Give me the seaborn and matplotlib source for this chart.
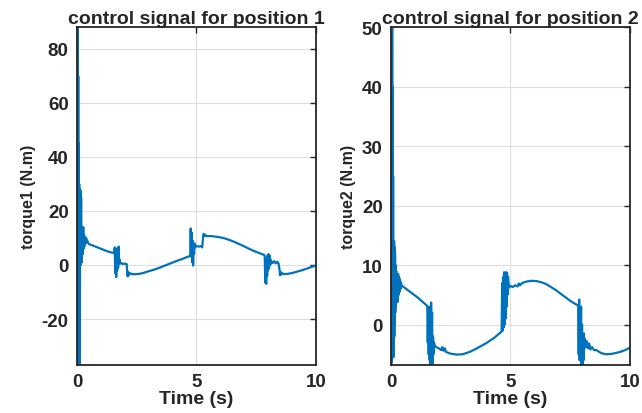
import numpy as np
import pandas as pd
import seaborn as sns
import matplotlib.pyplot as plt

# torque 1 signal (time in s, torque in N.m)
time1 = [0.00, 0.01, 0.02, 0.03, 0.04, 0.05, 0.06, 0.07, 0.08, 0.09, 0.10, 0.11, 0.12, 0.13,
         0.14, 0.15, 0.16, 0.17, 0.18, 0.19, 0.20, 0.22, 0.24, 0.26, 0.28, 0.30, 0.32, 0.34,
         0.36, 0.38, 0.40, 0.43, 0.46, 0.50, 0.60, 0.80, 1.00, 1.20, 1.40, 1.56,
         1.58, 1.60, 1.62, 1.64, 1.66, 1.68, 1.70, 1.72, 1.74, 1.76, 1.78, 1.80, 1.84, 1.90,
         2.00, 2.08, 2.10, 2.12, 2.14, 2.16, 2.20, 2.30, 2.45, 2.60, 2.80, 3.00, 3.20, 3.40,
         3.60, 3.80, 4.00, 4.20, 4.40, 4.60, 4.74,
         4.76, 4.78, 4.80, 4.82, 4.84, 4.86, 4.88, 4.90, 4.92, 4.94, 5.00, 5.10, 5.20, 5.24,
         5.28, 5.30, 5.33, 5.36, 5.40, 5.60, 5.80, 6.00, 6.20, 6.40, 6.60, 6.80, 7.00, 7.20,
         7.40, 7.60, 7.84,
         7.86, 7.88, 7.90, 7.92, 7.94, 7.96, 7.98, 8.00, 8.02, 8.04, 8.06, 8.08, 8.10, 8.12,
         8.16, 8.20, 8.26, 8.32, 8.38, 8.44, 8.48, 8.50, 8.52, 8.54, 8.58, 8.66, 8.80, 9.00,
         9.20, 9.40, 9.60, 9.80, 10.00]
torque1 = [0, 120, -45, 90, -40, 70, -38, 45, -40, 30, -42, 20, -25, 28,
           0, 27, 2, 25, 3, 14, 1, 13, 4, 14, 6, 11, 7, 10,
           8, 10, 8.5, 9, 8.2, 7.7, 7.4, 6.7, 6.0, 5.3, 4.7, 4.4,
           6.5, -3, 5, -4.5, 6, -2, 4, -1, 6.8, 1, 2, 0.5, 0.8, 0.4,
           0.5, 0.3, -3.5, -4.2, -2.5, -3.8, -3.0, -3.4, -3.4, -3.3, -2.9, -2.3, -1.8, -1.2,
           -0.5, 0.2, 0.9, 1.6, 2.2, 2.9, 3.4,
           13.5, 3, 12, 1, 9, -0.2, 7, 4, 8, 6.5, 7, 6.8, 7.0, 6.5,
           10.5, 11.5, 10.8, 11.2, 10.7, 10.7, 10.5, 10.2, 9.8, 9.2, 8.5, 7.7, 6.9, 6.0,
           5.2, 4.5, 3.7,
           3.0, -6.5, 2, -7, 1, -4, 3.5, -2, 4, -1, 3.5, 0, 2, 0.5,
           1.2, 0.8, 1.4, 0.6, 1.2, 0.5, -2, -3.8, -2.5, -3.6, -3.0, -3.4, -3.3, -3.0,
           -2.5, -2.0, -1.4, -0.8, -0.2]

# torque 2 signal
time2 = [0.00, 0.01, 0.02, 0.03, 0.04, 0.05, 0.06, 0.07, 0.08, 0.09, 0.10, 0.11, 0.12, 0.13,
         0.14, 0.15, 0.16, 0.17, 0.18, 0.19, 0.20, 0.22, 0.24, 0.26, 0.28, 0.30, 0.32, 0.34,
         0.36, 0.38, 0.40, 0.42, 0.45, 0.50, 0.70, 0.90, 1.10, 1.30, 1.50,
         1.52, 1.54, 1.56, 1.58, 1.60, 1.62, 1.64, 1.66, 1.68, 1.70, 1.72, 1.74, 1.76, 1.78,
         1.80, 1.84, 1.90, 2.00, 2.10, 2.15, 2.20, 2.25, 2.30, 2.50, 2.75, 3.00, 3.30, 3.60,
         4.00, 4.30, 4.63,
         4.66, 4.68, 4.70, 4.72, 4.74, 4.76, 4.78, 4.80, 4.82, 4.84, 4.86, 4.88, 4.90, 4.94,
         5.00, 5.10, 5.20, 5.30, 5.35, 5.40, 5.50, 5.70, 5.90, 6.10, 6.30, 6.50, 6.70, 6.90,
         7.10, 7.30, 7.50, 7.70, 7.84,
         7.86, 7.88, 7.90, 7.92, 7.94, 7.96, 7.98, 8.00, 8.02, 8.04, 8.06, 8.08, 8.10, 8.12,
         8.16, 8.20, 8.25, 8.30, 8.35, 8.42, 8.50, 8.60, 8.80, 9.00, 9.20, 9.40, 9.60, 9.80,
         10.00]
torque2 = [0, 60, -6.5, 55, -6, 52, -5.5, 40, -5, 25, -5.5, 14, -4, 14,
           -2, 13, 0, 12, 2, 10, 3, 9, 4, 8.3, 3.8, 8.5, 5, 8,
           5.5, 7.5, 6, 7, 6.5, 6.4, 5.8, 5.2, 4.6, 3.9, 3.2,
           3.1, -3, 2, -5, 3, -6, 1, -8, 3.7, -9, 2, -8, -2, -5,
           -3, -3.6, -3.8, -4.0, -4.3, -3.8, -4.4, -4.0, -4.6, -4.9, -5.05, -5.0, -4.6, -4.0,
           -3.1, -2.3, -1.2,
           7, -1, 8, -0.5, 8.8, 0, 8.5, 1, 8.8, 3, 8.7, 5, 8, 6.2,
           6.5, 6.3, 6.6, 6.4, 6.9, 6.6, 7.0, 7.25, 7.35, 7.3, 7.1, 6.8, 6.3, 5.8,
           5.2, 4.6, 4.0, 3.5, 3.2,
           -5, 4.2, -6, 2, -4, 3, -8, 0, -9, -2, -6, -1.5, -4, -2.4,
           -3.8, -2.8, -4.0, -3.2, -4.2, -3.8, -4.3, -4.3, -4.8, -5.0, -4.95, -4.8, -4.6, -4.3,
           -3.9]

panels = [
    (time1, torque1, 'control signal for position 1', 'torque1 (N.m)', (-37, 88), [-20, 0, 20, 40, 60, 80]),
    (time2, torque2, 'control signal for position 2', 'torque2 (N.m)', (-6.8, 50), [0, 10, 20, 30, 40, 50]),
]

sns.set_style('whitegrid', {'axes.edgecolor': '#262626', 'grid.color': '#dedede'})
plt.rcParams['font.family'] = ['Liberation Sans', 'DejaVu Sans']
plt.rcParams['axes.unicode_minus'] = False

fig = plt.figure(figsize=(6.42, 4.14), dpi=100)
axes = [fig.add_axes([0.120, 0.116, 0.372, 0.816]),
        fig.add_axes([0.609, 0.116, 0.372, 0.816])]

for ax, (t, tau, title, ylab, ylim, yticks) in zip(axes, panels):
    df = pd.DataFrame({'t': t, 'tau': tau})
    sns.lineplot(data=df, x='t', y='tau', ax=ax, estimator=None, color='#0072BD', linewidth=1.6)
    ax.set_xlim(0, 10)
    ax.set_ylim(*ylim)
    ax.set_xticks([0, 5, 10])
    ax.set_yticks(yticks)
    ax.set_title(title, fontsize=14, fontweight='bold', pad=3)
    ax.set_xlabel('Time (s)', fontsize=14, fontweight='bold', labelpad=0)
    ax.set_ylabel(ylab, fontsize=11.5, fontweight='bold', labelpad=4)
    ax.tick_params(direction='in', top=True, right=True, length=4, width=1,
                   labelsize=13.5, pad=6, color='#262626')
    plt.setp(ax.get_xticklabels() + ax.get_yticklabels(), fontweight='bold', color='#262626')
    for s in ax.spines.values():
        s.set_linewidth(1.3)

fig.savefig('out.png', dpi=100)
plt.close()
